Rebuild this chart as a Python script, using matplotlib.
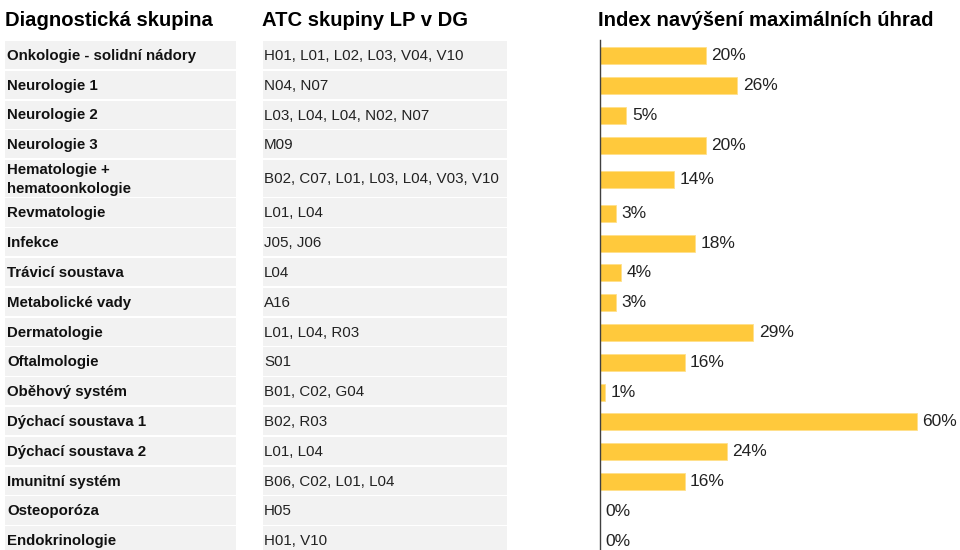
import matplotlib.pyplot as plt
import numpy as np

groups = [
    "Onkologie - solidní nádory",
    "Neurologie 1",
    "Neurologie 2",
    "Neurologie 3",
    "Hematologie +\nhematoonkologie",
    "Revmatologie",
    "Infekce",
    "Trávicí soustava",
    "Metabolické vady",
    "Dermatologie",
    "Oftalmologie",
    "Oběhový systém",
    "Dýchací soustava 1",
    "Dýchací soustava 2",
    "Imunitní systém",
    "Osteoporóza",
    "Endokrinologie",
]
atc = [
    "H01, L01, L02, L03, V04, V10",
    "N04, N07",
    "L03, L04, L04, N02, N07",
    "M09",
    "B02, C07, L01, L03, L04, V03, V10",
    "L01, L04",
    "J05, J06",
    "L04",
    "A16",
    "L01, L04, R03",
    "S01",
    "B01, C02, G04",
    "B02, R03",
    "L01, L04",
    "B06, C02, L01, L04",
    "H05",
    "H01, V10",
]
index = [20, 26, 5, 20, 14, 3, 18, 4, 3, 29, 16, 1, 60, 24, 16, 0, 0]

headers = ["Diagnostická skupina", "ATC skupiny LP v DG", "Index navýšení maximálních úhrad"]

plt.rcParams["font.family"] = ["Liberation Sans", "DejaVu Sans"]

W, H = 960, 550
pitch = 29.8  # px per row unit
fig = plt.figure(figsize=(W / 100, H / 100), dpi=100)

# row layout in "row units" (one normal row = 1)
heights = np.array([1.285 if "\n" in g else 1.0 for g in groups])
tops = 41 / pitch + np.concatenate([[0], np.cumsum(heights)[:-1]])
centers = tops + heights / 2
gap = 1.7 / pitch
ymax = H / pitch

# table part, x in pixels
ax_t = fig.add_axes([0, 0, 1, 1])
ax_t.set_xlim(0, W)
ax_t.set_ylim(ymax, 0)
ax_t.axis("off")

ax_t.barh(tops + (heights - gap) / 2, 231, left=5, height=heights - gap, color="#f2f2f2")
ax_t.barh(tops + (heights - gap) / 2, 244, left=263, height=heights - gap, color="#f2f2f2")

for c, g, a in zip(centers, groups, atc):
    ax_t.text(7, c, g, fontsize=10.8, fontweight="bold", va="center", ha="left",
              color="#111111", linespacing=1.4)
    ax_t.text(264, c, a, fontsize=10.9, va="center", ha="left", color="#222222")

hy = 21 / pitch
for x, h in zip([5, 262, 598], headers):
    ax_t.text(x, hy, h, fontsize=14.6, fontweight="bold", va="center", ha="left", color="#000000")

# bar part
ax_b = fig.add_axes([600 / W, 0, 360 / W, 1])
ax_b.set_xlim(0, 360 / 5.283)
ax_b.set_ylim(ymax, 0)
ax_b.patch.set_alpha(0)
bars = ax_b.barh(centers, index, height=17 / pitch, color="#FFC93C", edgecolor="#FFE08A", linewidth=0.6)
ax_b.bar_label(bars, labels=[f"{v}%" for v in index], padding=4, fontsize=12.5, color="#222222")
for s in ["top", "right", "bottom"]:
    ax_b.spines[s].set_visible(False)
ax_b.spines["left"].set_color("#404040")
ax_b.spines["left"].set_linewidth(1.0)
ax_b.spines["left"].set_bounds(40 / pitch, ymax)
ax_b.set_xticks([])
ax_b.set_yticks([])

fig.savefig("out.png", dpi=100)
